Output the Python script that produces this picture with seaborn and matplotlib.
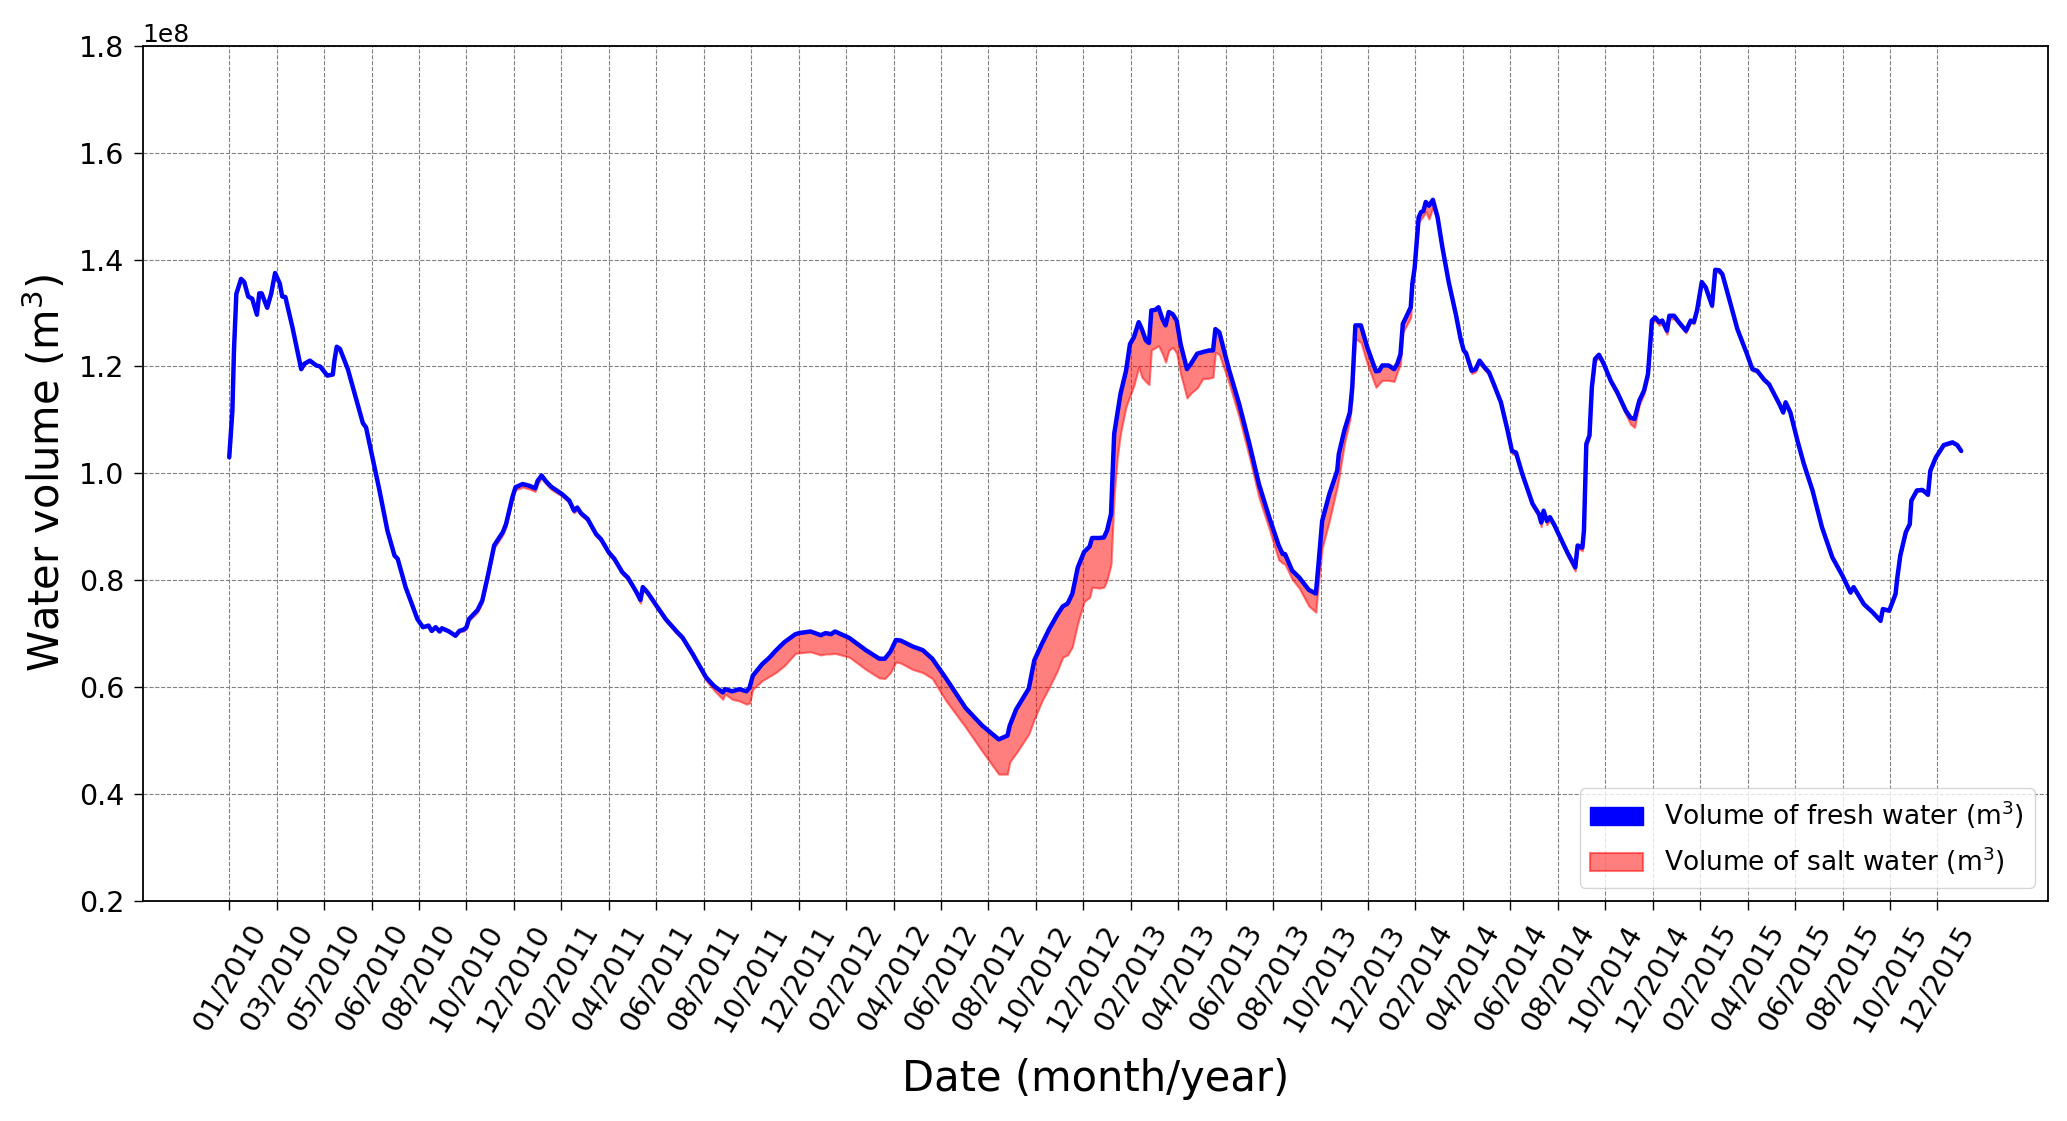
import numpy as np
import pandas as pd
import matplotlib
matplotlib.use("Agg")
import matplotlib.pyplot as plt
import matplotlib.dates as mdates
from matplotlib.patches import Patch
import seaborn as sns

# days since 01/01/2010
day_offset = [
    0, 4, 6, 9, 15, 19, 24, 29, 35, 38, 41, 48, 53, 58, 64, 67, 71, 80, 91, 95,
    102, 110, 115, 124, 131, 133, 136, 140, 150, 160, 169, 173, 181, 190, 200, 209, 213, 223, 238, 245,
    252, 256, 261, 266, 269, 278, 286, 291, 297, 300, 303, 314, 320, 327, 335, 346, 350, 358, 362, 371,
    379, 387, 390, 395, 400, 407, 421, 430, 436, 440, 445, 453, 464, 470, 480, 487, 497, 504, 514, 520,
    523, 529, 539, 552, 567, 573, 586, 603, 613, 624, 627, 636, 645, 654, 658, 662, 674, 683, 691, 702,
    716, 721, 735, 748, 754, 761, 766, 784, 805, 822, 829, 836, 843, 849, 864, 877, 889, 906, 931, 952,
    973, 984, 987, 995, 1011, 1018, 1028, 1037, 1047, 1054, 1060, 1066, 1073, 1081, 1088, 1091, 1100, 1106, 1110, 1115,
    1119, 1123, 1127, 1134, 1139, 1144, 1150, 1154, 1159, 1163, 1166, 1171, 1175, 1180, 1184, 1188, 1193, 1198, 1203, 1211,
    1216, 1224, 1231, 1239, 1244, 1247, 1252, 1264, 1277, 1290, 1302, 1315, 1327, 1332, 1335, 1344, 1353, 1365, 1374, 1377,
    1382, 1391, 1401, 1403, 1410, 1417, 1420, 1424, 1431, 1439, 1450, 1454, 1458, 1466, 1473, 1477, 1481, 1484, 1488, 1494,
    1496, 1499, 1504, 1507, 1510, 1513, 1517, 1522, 1528, 1534, 1542, 1551, 1557, 1561, 1564, 1571, 1576, 1581, 1587, 1593,
    1599, 1608, 1616, 1622, 1627, 1635, 1648, 1656, 1659, 1662, 1666, 1670, 1675, 1684, 1692, 1702, 1705, 1711, 1713, 1716,
    1720, 1723, 1727, 1732, 1738, 1747, 1755, 1766, 1772, 1777, 1783, 1789, 1794, 1799, 1803, 1808, 1812, 1818, 1821, 1827,
    1833, 1842, 1848, 1852, 1856, 1862, 1867, 1875, 1879, 1884, 1888, 1896, 1907, 1915, 1919, 1926, 1932, 1941, 1947, 1960,
    1965, 1968, 1974, 1983, 1991, 2002, 2014, 2027, 2040, 2050, 2054, 2067, 2078, 2088, 2091, 2099, 2107, 2109, 2113, 2120,
    2125, 2127, 2134, 2141, 2148, 2151, 2158, 2168, 2179, 2185, 2190,
]

# fresh water volume (x 1e8 m3)
fresh_1e8 = [
    1.030, 1.117, 1.230, 1.336, 1.364, 1.358, 1.331, 1.327, 1.297, 1.337, 1.337, 1.310, 1.336, 1.375, 1.355, 1.331, 1.330, 1.273, 1.195, 1.205,
    1.211, 1.202, 1.200, 1.183, 1.185, 1.211, 1.237, 1.233, 1.195, 1.142, 1.094, 1.086, 1.030, 0.968, 0.893, 0.846, 0.840, 0.787, 0.727, 0.712,
    0.715, 0.705, 0.712, 0.704, 0.710, 0.704, 0.696, 0.705, 0.708, 0.712, 0.727, 0.744, 0.762, 0.808, 0.865, 0.890, 0.905, 0.955, 0.974, 0.980,
    0.977, 0.972, 0.986, 0.996, 0.986, 0.975, 0.961, 0.949, 0.930, 0.936, 0.925, 0.915, 0.886, 0.877, 0.852, 0.840, 0.815, 0.805, 0.780, 0.763,
    0.787, 0.777, 0.755, 0.727, 0.702, 0.693, 0.662, 0.618, 0.602, 0.590, 0.596, 0.592, 0.596, 0.592, 0.599, 0.621, 0.643, 0.655, 0.668, 0.684,
    0.699, 0.701, 0.704, 0.697, 0.701, 0.699, 0.704, 0.692, 0.669, 0.653, 0.653, 0.666, 0.688, 0.687, 0.676, 0.669, 0.653, 0.617, 0.561, 0.528,
    0.502, 0.509, 0.528, 0.558, 0.597, 0.650, 0.682, 0.709, 0.735, 0.751, 0.756, 0.774, 0.824, 0.853, 0.863, 0.879, 0.879, 0.880, 0.893, 0.924,
    1.074, 1.111, 1.149, 1.192, 1.242, 1.255, 1.283, 1.270, 1.249, 1.244, 1.305, 1.306, 1.311, 1.289, 1.277, 1.302, 1.298, 1.286, 1.242, 1.195,
    1.205, 1.224, 1.227, 1.230, 1.230, 1.270, 1.264, 1.195, 1.130, 1.055, 0.980, 0.918, 0.865, 0.849, 0.849, 0.818, 0.805, 0.782, 0.775, 0.824,
    0.911, 0.961, 1.005, 1.036, 1.080, 1.114, 1.161, 1.277, 1.277, 1.236, 1.191, 1.192, 1.202, 1.202, 1.195, 1.205, 1.223, 1.280, 1.292, 1.311,
    1.355, 1.386, 1.479, 1.489, 1.491, 1.508, 1.501, 1.512, 1.479, 1.423, 1.358, 1.298, 1.252, 1.230, 1.225, 1.192, 1.195, 1.211, 1.199, 1.189,
    1.167, 1.133, 1.083, 1.042, 1.039, 0.999, 0.943, 0.924, 0.908, 0.930, 0.911, 0.918, 0.905, 0.877, 0.852, 0.824, 0.865, 0.861, 0.893, 1.055,
    1.071, 1.161, 1.214, 1.222, 1.205, 1.173, 1.152, 1.117, 1.104, 1.102, 1.136, 1.155, 1.186, 1.286, 1.292, 1.283, 1.286, 1.267, 1.295, 1.295,
    1.283, 1.267, 1.286, 1.283, 1.305, 1.358, 1.348, 1.314, 1.381, 1.380, 1.373, 1.330, 1.270, 1.239, 1.224, 1.195, 1.192, 1.175, 1.167, 1.130,
    1.114, 1.133, 1.114, 1.061, 1.018, 0.968, 0.899, 0.843, 0.808, 0.777, 0.787, 0.755, 0.740, 0.724, 0.746, 0.743, 0.774, 0.802, 0.846, 0.890,
    0.905, 0.949, 0.968, 0.969, 0.960, 1.005, 1.030, 1.053, 1.058, 1.053, 1.042,
]

# salt water volume (x 1e8 m3), lower edge of the red band
salt_1e8 = [
    1.029, 1.116, 1.229, 1.335, 1.363, 1.357, 1.330, 1.326, 1.296, 1.336, 1.336, 1.309, 1.335, 1.374, 1.354, 1.330, 1.329, 1.272, 1.194, 1.204,
    1.210, 1.201, 1.199, 1.182, 1.184, 1.210, 1.236, 1.232, 1.194, 1.141, 1.093, 1.085, 1.029, 0.967, 0.892, 0.845, 0.839, 0.786, 0.726, 0.711,
    0.714, 0.704, 0.711, 0.703, 0.709, 0.703, 0.695, 0.703, 0.705, 0.709, 0.724, 0.740, 0.758, 0.803, 0.860, 0.885, 0.900, 0.950, 0.969, 0.974,
    0.971, 0.966, 0.980, 0.991, 0.981, 0.970, 0.957, 0.945, 0.926, 0.932, 0.921, 0.911, 0.882, 0.873, 0.848, 0.836, 0.811, 0.801, 0.776, 0.757,
    0.782, 0.773, 0.751, 0.723, 0.698, 0.689, 0.657, 0.612, 0.594, 0.577, 0.587, 0.577, 0.574, 0.568, 0.570, 0.596, 0.612, 0.620, 0.627, 0.640,
    0.663, 0.664, 0.666, 0.660, 0.662, 0.662, 0.663, 0.656, 0.633, 0.617, 0.616, 0.627, 0.647, 0.645, 0.633, 0.627, 0.616, 0.575, 0.525, 0.480,
    0.437, 0.437, 0.460, 0.476, 0.512, 0.540, 0.575, 0.600, 0.630, 0.656, 0.660, 0.675, 0.720, 0.760, 0.768, 0.787, 0.785, 0.787, 0.800, 0.830,
    0.960, 1.030, 1.075, 1.125, 1.145, 1.165, 1.199, 1.180, 1.172, 1.166, 1.231, 1.235, 1.239, 1.224, 1.208, 1.230, 1.236, 1.225, 1.186, 1.141,
    1.150, 1.160, 1.177, 1.178, 1.180, 1.227, 1.222, 1.170, 1.105, 1.030, 0.955, 0.896, 0.838, 0.832, 0.830, 0.802, 0.785, 0.752, 0.740, 0.790,
    0.860, 0.911, 0.975, 0.990, 1.055, 1.100, 1.140, 1.252, 1.245, 1.205, 1.161, 1.168, 1.174, 1.174, 1.172, 1.190, 1.205, 1.264, 1.275, 1.292,
    1.345, 1.378, 1.470, 1.476, 1.482, 1.490, 1.476, 1.498, 1.472, 1.418, 1.354, 1.294, 1.248, 1.225, 1.220, 1.187, 1.190, 1.207, 1.194, 1.185,
    1.163, 1.129, 1.079, 1.037, 1.034, 0.995, 0.938, 0.919, 0.900, 0.925, 0.904, 0.912, 0.900, 0.872, 0.846, 0.817, 0.860, 0.855, 0.888, 1.050,
    1.066, 1.156, 1.209, 1.217, 1.200, 1.168, 1.146, 1.110, 1.092, 1.086, 1.128, 1.149, 1.180, 1.280, 1.287, 1.277, 1.280, 1.260, 1.289, 1.289,
    1.279, 1.263, 1.283, 1.280, 1.302, 1.355, 1.345, 1.311, 1.378, 1.375, 1.370, 1.327, 1.267, 1.236, 1.221, 1.192, 1.189, 1.172, 1.164, 1.128,
    1.112, 1.131, 1.112, 1.059, 1.016, 0.966, 0.897, 0.841, 0.806, 0.775, 0.785, 0.753, 0.738, 0.722, 0.744, 0.741, 0.772, 0.800, 0.844, 0.888,
    0.903, 0.947, 0.966, 0.967, 0.958, 1.003, 1.028, 1.051, 1.056, 1.051, 1.040,
]

df = pd.DataFrame({
    "Date": pd.Timestamp("2010-01-01") + pd.to_timedelta(day_offset, unit="D"),
    "Fresh": np.array(fresh_1e8) * 1e8,
    "Salt": np.array(salt_1e8) * 1e8,
})

sns.set_theme(style="ticks", rc={
    "axes.edgecolor": "black", "axes.labelcolor": "black", "text.color": "black",
    "xtick.color": "black", "ytick.color": "black", "axes.linewidth": 1.3,
})
plt.rcParams["font.family"] = ["DejaVu Sans"]

fig, ax = plt.subplots(figsize=(20.67, 11.21), dpi=100)
fig.subplots_adjust(left=0.069, right=0.9907, top=0.959, bottom=0.1965)

# red band between salt and fresh volumes, then the fresh water line on top
ax.fill_between(df["Date"], df["Salt"], df["Fresh"], facecolor="red",
                edgecolor="red", alpha=0.5, linewidth=1.5)
sns.lineplot(data=df, x="Date", y="Fresh", ax=ax, color="blue", linewidth=3.2)

ax.set_ylim(0.2e8, 1.8e8)
ax.set_yticks(np.arange(0.2e8, 1.81e8, 0.2e8))

# x ticks every 60 days from the first date
tick_dates = pd.date_range("2010-01-01", periods=37, freq="60D")
ax.set_xticks(tick_dates)
ax.xaxis.set_major_formatter(mdates.DateFormatter("%m/%Y"))
plt.setp(ax.get_xticklabels(), rotation=60)

ax.tick_params(axis="both", labelsize=20.5, length=6.3, width=1.0, pad=7)
ax.yaxis.get_offset_text().set_fontsize(18)

ax.grid(True, linestyle="--", color="gray", linewidth=0.8)

ax.set_xlabel("Date (month/year)", fontsize=30, labelpad=16)
ax.set_ylabel("Water volume (m$^3$)", fontsize=30, labelpad=7)

handles = [
    Patch(facecolor="blue", edgecolor="blue", label="Volume of fresh water (m$^3$)"),
    Patch(facecolor="red", edgecolor="red", alpha=0.5, linewidth=1.5,
          label="Volume of salt water (m$^3$)"),
]
ax.legend(handles=handles, loc="lower right", fontsize=19)

fig.savefig("out.png", dpi=100)
